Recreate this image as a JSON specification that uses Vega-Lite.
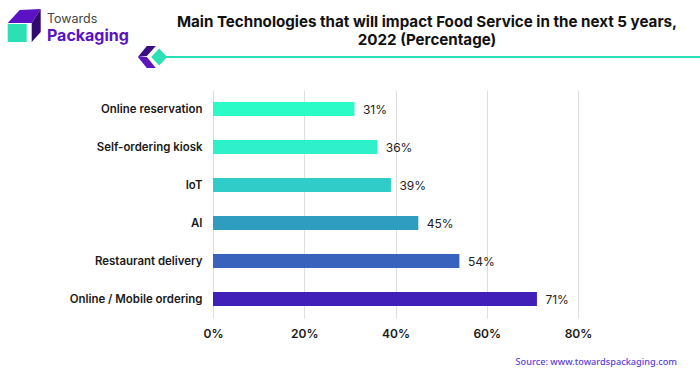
{
"$schema":"https://vega.github.io/schema/vega-lite/v6.json",
"width":365,"height":228,
"autosize":"none",
"padding":{"left":213,"top":90,"right":122,"bottom":57},
"background":"white",
"config":{"view":{"stroke":null},"font":"Inter"},
"title":{"text":["Main Technologies that will impact Food Service in the next 5 years,","2022 (Percentage)"],"font":"Inter","fontSize":15.15,"fontWeight":700,"color":"#111111","lineHeight":18.5,"anchor":"middle","dx":31.5,"offset":-39.5},
"resolve":{"scale":{"y":"independent"}},
"layer":[
{
"data":{"values":[
{"technology":"Online reservation","value":31,"label":"31%"},
{"technology":"Self-ordering kiosk","value":36,"label":"36%"},
{"technology":"IoT","value":39,"label":"39%"},
{"technology":"AI","value":45,"label":"45%"},
{"technology":"Restaurant delivery","value":54,"label":"54%"},
{"technology":"Online / Mobile ordering","value":71,"label":"71%"}
]},
"encoding":{
"y":{"field":"technology","type":"nominal","sort":null,"scale":{"paddingInner":0.63,"paddingOuter":0.315},"axis":{"title":null,"domain":false,"ticks":false,"labelPadding":11,"labelOffset":1,"labelFont":"Inter","labelFontSize":11.45,"labelFontWeight":600,"labelColor":"#1a1a1a"}},
"x":{"field":"value","type":"quantitative","scale":{"domain":[0,80],"nice":false},"axis":{"title":null,"values":[0,20,40,60,80],"labelExpr":"datum.value+'%'","labelFlush":false,"labelBound":false,"labelAlign":"center","domain":false,"ticks":false,"grid":true,"gridColor":"#dedede","gridWidth":1,"labelPadding":10,"labelFont":"Inter","labelFontSize":12,"labelFontWeight":600,"labelColor":"#1a1a1a"}}
},
"layer":[
{"mark":{"type":"bar","clip":false},
"encoding":{"color":{"field":"technology","type":"nominal","sort":null,"legend":null,"scale":{"domain":["Online reservation","Self-ordering kiosk","IoT","AI","Restaurant delivery","Online / Mobile ordering"],"range":["#2bfcc7","#2ef0cb","#30cdc8","#2f9dc0","#3862bb","#4020b8"]}}}},
{"mark":{"type":"text","align":"left","baseline":"middle","dx":8.5,"dy":1,"font":"Inter","fontSize":12,"fontWeight":400,"color":"#222222"},
"encoding":{"text":{"field":"label","type":"nominal"}}}
]
},
{
"data":{"values":[{"element":"decoration"}]},
"encoding":{"y":{"type":"quantitative","scale":{"domain":[318,90],"nice":false,"zero":false},"axis":null}},
"layer":[
{"mark":{"type":"rule","stroke":"#2be0b5","strokeWidth":2.2},"encoding":{"x":{"datum":-11},"x2":{"datum":107},"y":{"datum":57,"type":"quantitative","scale":{"domain":[318,90],"nice":false,"zero":false},"axis":null}}},
{"mark":{"type":"point","filled":true,"size":4,"opacity":1,"fill":"#2be0b5","shape":"M0,-8.5L8,0L0,8.5L-8,0Z"},"encoding":{"x":{"datum":-11.8},"y":{"datum":57,"type":"quantitative"}}},
{"mark":{"type":"point","filled":true,"size":4,"opacity":1,"fill":"#3a0f85","shape":"M-9,0L0,-11L9,-11L0,-1Z"},"encoding":{"x":{"datum":-14.5},"y":{"datum":57,"type":"quantitative"}}},
{"mark":{"type":"point","filled":true,"size":4,"opacity":1,"fill":"#5a17bd","shape":"M-9,0L0,11L9,11L0,0Z"},"encoding":{"x":{"datum":-14.5},"y":{"datum":57,"type":"quantitative"}}},
{"mark":{"type":"point","filled":true,"size":4,"opacity":1,"fill":"#2be0b5","shape":"M-17,-1L2,-1L2,17L-17,17Z"},"encoding":{"x":{"datum":-41.27},"y":{"datum":25,"type":"quantitative"}}},
{"mark":{"type":"point","filled":true,"size":4,"opacity":1,"fill":"#5a12c4","shape":"M-17,-2L-5,-15L16,-16L7,-2Z"},"encoding":{"x":{"datum":-41.27},"y":{"datum":25,"type":"quantitative"}}},
{"mark":{"type":"point","filled":true,"size":4,"opacity":1,"fill":"#32096e","shape":"M7,-2L16,-16L16,7L7,17Z"},"encoding":{"x":{"datum":-41.27},"y":{"datum":25,"type":"quantitative"}}},
{"mark":{"type":"text","align":"left","baseline":"middle","font":"Inter","fontSize":12.5,"fontWeight":400,"color":"#444444"},"encoding":{"text":{"value":"Towards"},"x":{"datum":-36.4},"y":{"datum":19,"type":"quantitative"}}},
{"mark":{"type":"text","align":"left","baseline":"middle","font":"Inter","fontSize":16,"fontWeight":700,"color":"#5a12c4"},"encoding":{"text":{"value":"Packaging"},"x":{"datum":-36.4},"y":{"datum":36,"type":"quantitative"}}},
{"mark":{"type":"text","align":"right","baseline":"middle","font":"Noto Sans","fontSize":9.2,"fontWeight":500,"color":"#5b3fd6"},"encoding":{"text":{"value":"Source: www.towardspackaging.com"},"x":{"datum":101.7},"y":{"datum":362,"type":"quantitative"}}}
]
}
]
}
